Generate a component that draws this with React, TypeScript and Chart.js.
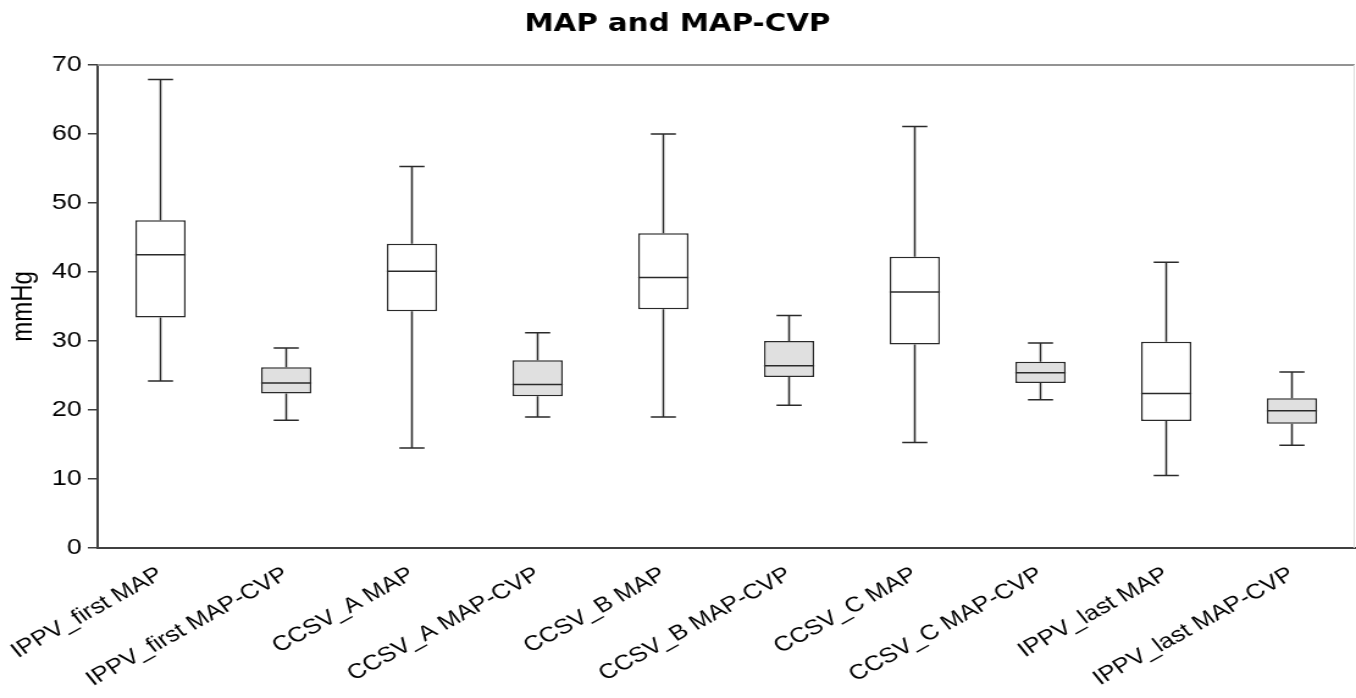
import React, { useEffect, useRef } from 'react';
import { Chart, registerables } from 'chart.js';

Chart.register(...registerables);

const categories = [
  'IPPV_first MAP',
  'IPPV_first MAP-CVP',
  'CCSV_A MAP',
  'CCSV_A MAP-CVP',
  'CCSV_B MAP',
  'CCSV_B MAP-CVP',
  'CCSV_C MAP',
  'CCSV_C MAP-CVP',
  'IPPV_last MAP',
  'IPPV_last MAP-CVP',
];
const whiskerLow = [24.2, 18.5, 14.5, 19.0, 19.0, 20.7, 15.3, 21.5, 10.5, 14.9];
const quartile1 = [33.4, 22.4, 34.3, 22.0, 34.6, 24.8, 29.5, 23.9, 18.4, 18.0];
const medians = [42.5, 23.9, 40.1, 23.7, 39.2, 26.4, 37.1, 25.4, 22.4, 19.9];
const quartile3 = [47.5, 26.2, 44.1, 27.2, 45.6, 30.0, 42.2, 27.0, 29.9, 21.7];
const whiskerHigh = [67.9, 29.0, 55.3, 31.2, 60.0, 33.7, 61.1, 29.7, 41.4, 25.5];
const yMin = 0;
const yMax = 70;
const yStep = 10;
const chartTitle = 'MAP and MAP-CVP';
const yTitle = 'mmHg';

const LINE = '#2a2a2a';

const boxPlotPlugin = {
  id: 'boxWhiskers',
  afterDatasetsDraw(chart: any) {
    const ctx = chart.ctx;
    const ys = chart.scales.y;
    const meta = chart.getDatasetMeta(0);
    ctx.save();
    ctx.strokeStyle = LINE;
    ctx.lineWidth = 1.5;
    meta.data.forEach((bar: any, i: number) => {
      const { x, width } = bar.getProps(['x', 'width'], true);
      const pLow = ys.getPixelForValue(whiskerLow[i]);
      const pQ1 = ys.getPixelForValue(quartile1[i]);
      const pMed = ys.getPixelForValue(medians[i]);
      const pQ3 = ys.getPixelForValue(quartile3[i]);
      const pHigh = ys.getPixelForValue(whiskerHigh[i]);
      const cap = width / 4;
      ctx.beginPath();
      ctx.moveTo(x, pQ1);
      ctx.lineTo(x, pLow);
      ctx.moveTo(x - cap, pLow);
      ctx.lineTo(x + cap, pLow);
      ctx.moveTo(x, pQ3);
      ctx.lineTo(x, pHigh);
      ctx.moveTo(x - cap, pHigh);
      ctx.lineTo(x + cap, pHigh);
      ctx.moveTo(x - width / 2, pMed);
      ctx.lineTo(x + width / 2, pMed);
      ctx.stroke();
    });
    ctx.restore();
  },
  afterDraw(chart: any) {
    const { ctx, chartArea } = chart;
    ctx.save();
    ctx.strokeStyle = '#939393';
    ctx.lineWidth = 2;
    ctx.beginPath();
    ctx.moveTo(chartArea.left, chartArea.top);
    ctx.lineTo(chartArea.right, chartArea.top);
    ctx.stroke();
    ctx.strokeStyle = '#dddddd';
    ctx.lineWidth = 1;
    ctx.beginPath();
    ctx.moveTo(chartArea.right - 0.5, chartArea.top);
    ctx.lineTo(chartArea.right - 0.5, chartArea.bottom);
    ctx.stroke();
    ctx.restore();
  },
};

export default function App() {
  const canvasRef = useRef<HTMLCanvasElement | null>(null);

  useEffect(() => {
    const canvas = canvasRef.current;
    if (!canvas) return;
    const chart = new Chart(canvas, {
      type: 'bar',
      data: {
        labels: categories,
        datasets: [
          {
            data: categories.map((_, i) => [quartile1[i], quartile3[i]]),
            backgroundColor: (c: any) =>
              String(categories[c.dataIndex]).endsWith('MAP-CVP') ? '#e0e0e0' : '#ffffff',
            borderColor: LINE,
            borderWidth: 1.5,
            borderSkipped: false,
            barPercentage: 0.4,
            categoryPercentage: 1,
          } as any,
        ],
      },
      options: {
        responsive: false,
        animation: false,
        devicePixelRatio: 1,
        layout: { padding: { left: 0, right: 1, top: 0, bottom: 0 } },
        plugins: {
          legend: { display: false },
          tooltip: { enabled: false },
          title: {
            display: true,
            text: chartTitle,
            color: '#000000',
            font: { family: 'DejaVu Sans', size: 24, weight: 'bold' },
            padding: { top: 10, bottom: 26.2 },
          },
        },
        scales: {
          x: {
            grid: { display: false, drawTicks: false },
            border: { display: true, color: '#404040', width: 2 },
            ticks: {
              autoSkip: false,
              minRotation: 34,
              maxRotation: 34,
              padding: 14,
              color: '#000000',
              font: { family: 'Liberation Sans', size: 21 },
            },
            afterFit(scale: any) {
              scale.height = 150;
              scale.paddingLeft = 0;
              scale.paddingRight = 0;
            },
          },
          y: {
            min: yMin,
            max: yMax,
            grid: {
              display: true,
              drawOnChartArea: false,
              drawTicks: true,
              tickLength: 8,
              color: '#404040',
              lineWidth: 1.5,
            },
            border: { display: true, color: '#404040', width: 2 },
            ticks: {
              stepSize: yStep,
              padding: 5,
              color: '#000000',
              font: { family: 'Liberation Sans', size: 22 },
            },
            title: {
              display: true,
              text: yTitle,
              color: '#000000',
              font: { family: 'Liberation Sans', size: 24 },
              padding: { top: 5, bottom: 0 },
            },
            afterFit(scale: any) {
              scale.width = 80;
            },
          },
        },
      },
      plugins: [boxPlotPlugin],
    } as any);
    return () => chart.destroy();
  }, []);

  return (
    <div style={{ position: 'absolute', left: 0, top: 0, width: 1356, height: 698, background: '#ffffff' }}>
      <canvas
        ref={canvasRef}
        width={1111}
        height={698}
        style={{ display: 'block', width: '1356px', height: '698px' }}
      />
    </div>
  );
}
